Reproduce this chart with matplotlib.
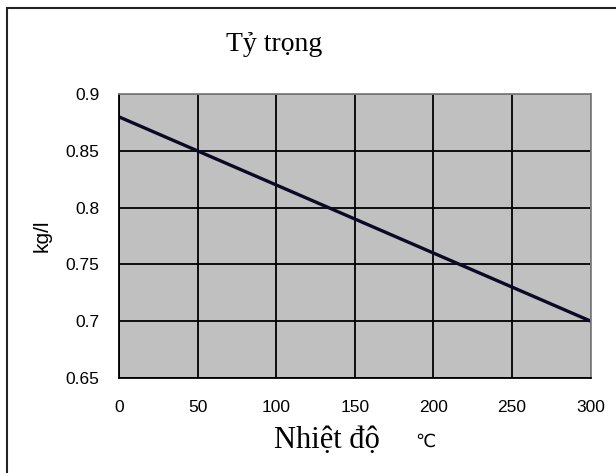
import numpy as np
import matplotlib.pyplot as plt
from matplotlib.patches import Rectangle

# du lieu: nhiet do (C) va ty trong (kg/l)
nhiet_do = [0, 50, 100, 150, 200, 250, 300]
ty_trong = [0.88, 0.85, 0.82, 0.79, 0.76, 0.73, 0.70]
x_ticks = [0, 50, 100, 150, 200, 250, 300]
y_ticks = [0.65, 0.7, 0.75, 0.8, 0.85, 0.9]
y_labels = ['0.65', '0.7', '0.75', '0.8', '0.85', '0.9']

fig = plt.figure(figsize=(6.16, 4.73), dpi=100)
ax = fig.add_axes([0.193, 0.201, 0.766, 0.600])
ax.set_facecolor('#c0c0c0')

ax.plot(nhiet_do, ty_trong, color='#0a0a28', lw=2.4, solid_capstyle='butt')

ax.set_xlim(0, 300)
ax.set_ylim(0.65, 0.9)
ax.set_xticks(x_ticks)
ax.set_yticks(y_ticks)
ax.set_yticklabels(y_labels)
ax.grid(True, color='black', lw=1.3)
ax.set_axisbelow(True)
ax.tick_params(length=0, labelsize=12.5, pad=14, labelfontfamily='Liberation Sans')
ax.tick_params(axis='x', pad=16)

for s in ['left', 'bottom']:
    ax.spines[s].set_color('black')
    ax.spines[s].set_linewidth(1.3)
for s in ['top', 'right']:
    ax.spines[s].set_color('#808080')
    ax.spines[s].set_linewidth(1.3)

ax.set_ylabel('kg/l', fontsize=15, family='Liberation Sans', labelpad=10)

fig.text(0.445, 0.905, 'Tỷ trọng', ha='center', va='center', fontsize=20, family='Liberation Serif')
fig.text(0.531, 0.068, 'Nhiệt độ', ha='center', va='center', fontsize=22, family='Liberation Serif')
fig.text(0.69, 0.066, '℃', ha='center', va='center', fontsize=13, family='DejaVu Sans')

# khung vien ngoai
fig.patches.append(Rectangle((6.5 / 616, -0.05), 1.0, 1 - 8.5 / 473 + 0.05,
                             transform=fig.transFigure, fill=False,
                             edgecolor='#222222', lw=1.5))

plt.savefig('out.png', dpi=100)
